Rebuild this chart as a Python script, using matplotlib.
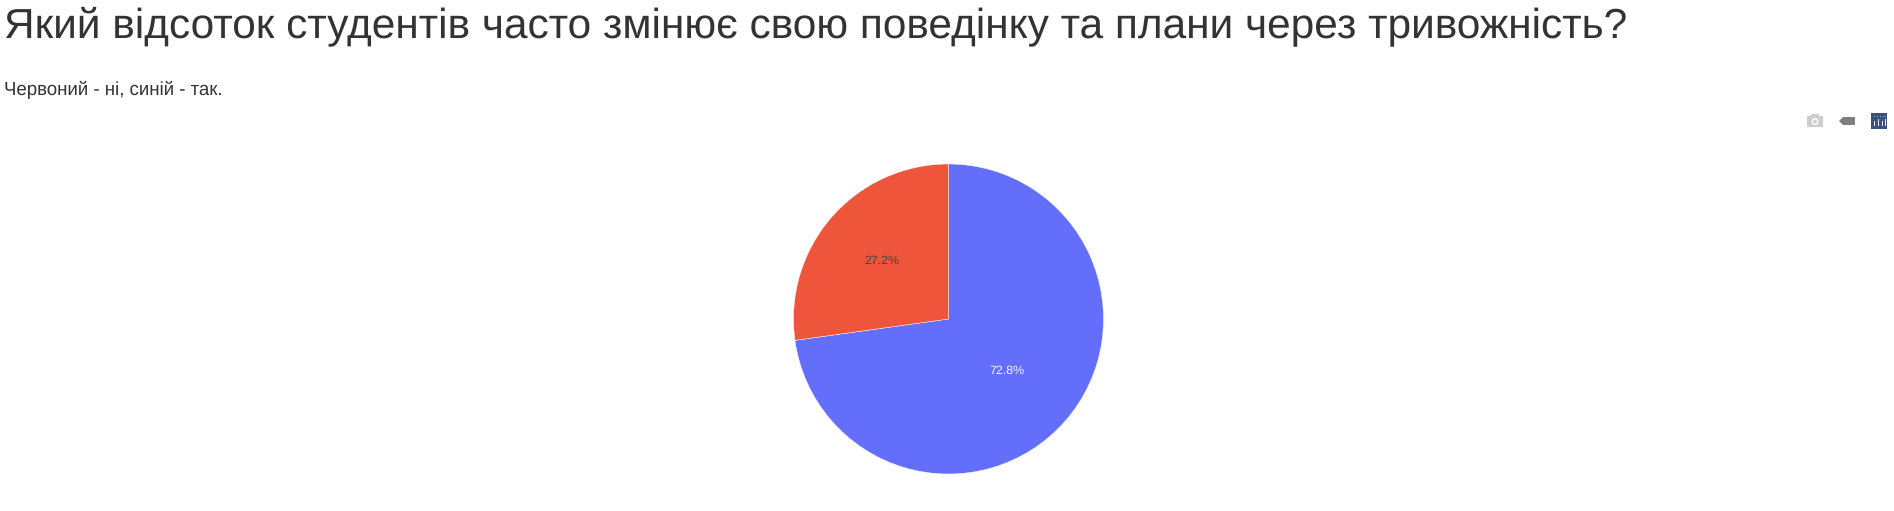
import matplotlib
matplotlib.use('Agg')
import matplotlib.pyplot as plt
from matplotlib.patches import Rectangle, Circle, Polygon
import numpy as np

W, H = 1894, 511
title = 'Який відсоток студентів часто змінює свою поведінку та плани через тривожність?'
subtitle = 'Червоний - ні, синій - так.'
answers = ['так', 'ні']
shares = [72.8, 27.2]
colors = ['#636EFA', '#EF553B']
pct_colors = ['#F4F5FF', '#444444']

plt.rcParams['font.family'] = ['Liberation Sans', 'DejaVu Sans']
plt.rcParams['text.hinting'] = 'no_hinting'

fig = plt.figure(figsize=(W / 100, H / 100), dpi=100, facecolor='white')

# pie, 155 px radius around (948.5, 319)
cx, cy, r = 948.5, 319, 155
ax = fig.add_axes([(cx - r) / W, 1 - (cy + r) / H, 2 * r / W, 2 * r / H])
wedges, _ = ax.pie(shares, colors=colors, startangle=90, counterclock=False, radius=1,
                   wedgeprops={'linewidth': 0.3, 'edgecolor': 'white'})
ax.set_xlim(-1, 1)
ax.set_ylim(-1, 1)

pct_dist = [0.497, 0.572]  # plotly doesn't keep them the same
pct_nudge = [-1, 0]
for w, s, c, d, n in zip(wedges, shares, pct_colors, pct_dist, pct_nudge):
    a = np.deg2rad((w.theta1 + w.theta2) / 2)
    ax.annotate(f'{s}%', (d * np.cos(a), d * np.sin(a)), xytext=(0, n), textcoords='offset points',
                color=c, fontsize=8.9, ha='center', va='center')

# overlay in pixel coords for the page text and the toolbar icons
pg = fig.add_axes([0, 0, 1, 1], facecolor='none')
pg.set_xlim(0, W)
pg.set_ylim(H, 0)
pg.axis('off')

pg.text(4, 37, title, fontsize=30.55, color='#333333', ha='left', va='baseline')
pg.text(4, 95, subtitle, fontsize=13.4, color='#333333', ha='left', va='baseline')

# camera
pg.add_patch(Rectangle((1807, 116), 16, 11, color='#CDCDCD', lw=0))
pg.add_patch(Rectangle((1811, 114), 8, 3, color='#CDCDCD', lw=0))
pg.add_patch(Circle((1815, 121.5), 3.5, color='white', lw=0))
pg.add_patch(Circle((1815, 121.5), 2, color='#CDCDCD', lw=0))
# tag
pg.add_patch(Polygon([(1839, 121), (1843, 117), (1855, 117), (1855, 125), (1843, 125)],
                     closed=True, color='#7F7F7F', lw=0))
# chart studio logo
pg.add_patch(Rectangle((1871, 113), 16, 16, color='#3D4F7C', lw=0))
for x, top in zip([1874, 1878, 1882, 1885], [121, 119, 121, 119]):
    pg.add_patch(Rectangle((x, top), 1.4, 126 - top, color='#E8EAF0', lw=0))
for x in [1874, 1877, 1880, 1883, 1885]:
    pg.add_patch(Rectangle((x, 116), 1, 1, color='#66C6C0', lw=0))

fig.savefig('out.png', dpi=100, facecolor='white')
